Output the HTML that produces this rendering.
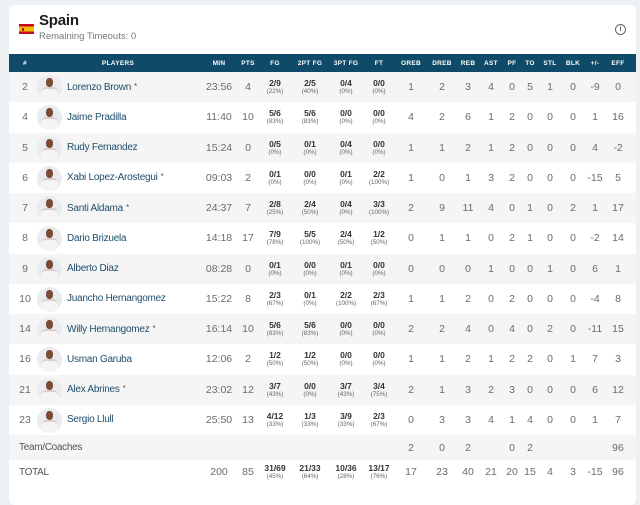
<!DOCTYPE html>
<html><head><meta charset="utf-8">
<style>
*{margin:0;padding:0;box-sizing:border-box}
html,body{width:640px;height:483px;overflow:hidden;background:#eef1f4;font-family:"Liberation Sans",sans-serif}
.card{position:absolute;left:9px;top:5px;width:627px;height:500px;background:#fff;border-radius:6px;overflow:hidden}
.title{position:absolute;left:30px;top:8px;font-size:15px;font-weight:bold;color:#1b1b1b;line-height:15px;letter-spacing:-0.2px}
.sub{position:absolute;left:30px;top:26.5px;font-size:9.5px;color:#777;line-height:10px}
.flag{position:absolute;left:10px;top:19px;width:15px;height:10px;background:linear-gradient(#c60b1e 0 25%,#f1bf00 25% 75%,#c60b1e 75%)}
.flag:after{content:"";position:absolute;left:3px;top:3.5px;width:2px;height:3px;background:#ad1519}
.info{position:absolute;left:606px;top:19px;width:11px;height:11px;border:1px solid #666;border-radius:50%;font-size:7px;line-height:9px;text-align:center;color:#666;font-weight:bold}
.r{position:absolute;left:0;width:627px;height:30.25px}
.g{background:#f5f5f5}
.hd{top:49px;height:18px;background:#0f4a68;color:#fff;font-size:6.5px;font-weight:bold;letter-spacing:.3px}
.c{position:absolute;top:0;height:100%;width:40px;display:flex;flex-direction:column;justify-content:center;align-items:center;text-align:center;font-size:10.5px;color:#6b6b6b;white-space:nowrap}
.hd .c{color:#fff;font-size:6.5px}
.c b{font-size:8.5px;font-weight:bold;color:#333;line-height:10px}
.c i{font-style:normal;font-size:6.3px;color:#666;line-height:8px}
.n{left:1px;width:30px}
.nm{position:absolute;left:58px;top:0;height:100%;display:flex;align-items:center;font-size:10px;letter-spacing:-0.25px;color:#1e4d6b;white-space:nowrap}
.nm sup{font-size:8px;vertical-align:top;position:relative;top:-1px;margin-left:3px;color:#555}
.av{position:absolute;left:27.5px;top:3px;width:25px;height:25px;border-radius:50%;background:#e9ebee;overflow:hidden}
.av:before{content:"";position:absolute;left:9px;top:3px;width:7px;height:9px;border-radius:45%;background:#7a4a35}
.av:after{content:"";position:absolute;left:4px;top:12px;width:17px;height:14px;border-radius:5px 5px 0 0;background:#f7f3f2;border-top:2px solid #d8d0ce;box-shadow:inset 0 -9px 0 -6px #d33a4a}
.lbl{position:absolute;left:10px;top:0;height:100%;display:flex;align-items:center;font-size:10px;letter-spacing:-0.3px;color:#555}
.c1{left:190px}.c2{left:219px}.c3{left:246px}.c4{left:281px}.c5{left:317px}.c6{left:350px}.c7{left:382px}.c8{left:413px}.c9{left:439px}.c10{left:462px}.c11{left:483px}.c12{left:501px}.c13{left:521px}.c14{left:544px}.c15{left:566px}.c16{left:589px}
</style></head><body>
<div class="card">
<div class="flag"></div>
<div class="title">Spain</div>
<div class="sub">Remaining Timeouts: 0</div>
<div class="info">i</div>

<div class="r hd">
<span class="c n">#</span>
<span class="c" style="left:89px;width:40px">PLAYERS</span>
<span class="c c1">MIN</span><span class="c c2">PTS</span><span class="c c3">FG</span><span class="c c4">2PT FG</span><span class="c c5">3PT FG</span><span class="c c6">FT</span><span class="c c7">OREB</span><span class="c c8">DREB</span><span class="c c9">REB</span><span class="c c10">AST</span><span class="c c11">PF</span><span class="c c12">TO</span><span class="c c13">STL</span><span class="c c14">BLK</span><span class="c c15">+/-</span><span class="c c16">EFF</span>
</div>

<div class="r g" style="top:67px"><span class="c n">2</span><div class="av"></div><div class="nm">Lorenzo Brown<sup>*</sup></div>
<span class="c c1">23:56</span><span class="c c2">4</span><span class="c c3"><b>2/9</b><i>(22%)</i></span><span class="c c4"><b>2/5</b><i>(40%)</i></span><span class="c c5"><b>0/4</b><i>(0%)</i></span><span class="c c6"><b>0/0</b><i>(0%)</i></span><span class="c c7">1</span><span class="c c8">2</span><span class="c c9">3</span><span class="c c10">4</span><span class="c c11">0</span><span class="c c12">5</span><span class="c c13">1</span><span class="c c14">0</span><span class="c c15">-9</span><span class="c c16">0</span></div>

<div class="r" style="top:97.25px"><span class="c n">4</span><div class="av"></div><div class="nm">Jaime Pradilla</div>
<span class="c c1">11:40</span><span class="c c2">10</span><span class="c c3"><b>5/6</b><i>(83%)</i></span><span class="c c4"><b>5/6</b><i>(83%)</i></span><span class="c c5"><b>0/0</b><i>(0%)</i></span><span class="c c6"><b>0/0</b><i>(0%)</i></span><span class="c c7">4</span><span class="c c8">2</span><span class="c c9">6</span><span class="c c10">1</span><span class="c c11">2</span><span class="c c12">0</span><span class="c c13">0</span><span class="c c14">0</span><span class="c c15">1</span><span class="c c16">16</span></div>

<div class="r g" style="top:127.5px"><span class="c n">5</span><div class="av"></div><div class="nm">Rudy Fernandez</div>
<span class="c c1">15:24</span><span class="c c2">0</span><span class="c c3"><b>0/5</b><i>(0%)</i></span><span class="c c4"><b>0/1</b><i>(0%)</i></span><span class="c c5"><b>0/4</b><i>(0%)</i></span><span class="c c6"><b>0/0</b><i>(0%)</i></span><span class="c c7">1</span><span class="c c8">1</span><span class="c c9">2</span><span class="c c10">1</span><span class="c c11">2</span><span class="c c12">0</span><span class="c c13">0</span><span class="c c14">0</span><span class="c c15">4</span><span class="c c16">-2</span></div>

<div class="r" style="top:157.75px"><span class="c n">6</span><div class="av"></div><div class="nm">Xabi Lopez-Arostegui<sup>*</sup></div>
<span class="c c1">09:03</span><span class="c c2">2</span><span class="c c3"><b>0/1</b><i>(0%)</i></span><span class="c c4"><b>0/0</b><i>(0%)</i></span><span class="c c5"><b>0/1</b><i>(0%)</i></span><span class="c c6"><b>2/2</b><i>(100%)</i></span><span class="c c7">1</span><span class="c c8">0</span><span class="c c9">1</span><span class="c c10">3</span><span class="c c11">2</span><span class="c c12">0</span><span class="c c13">0</span><span class="c c14">0</span><span class="c c15">-15</span><span class="c c16">5</span></div>

<div class="r g" style="top:188px"><span class="c n">7</span><div class="av"></div><div class="nm">Santi Aldama<sup>*</sup></div>
<span class="c c1">24:37</span><span class="c c2">7</span><span class="c c3"><b>2/8</b><i>(25%)</i></span><span class="c c4"><b>2/4</b><i>(50%)</i></span><span class="c c5"><b>0/4</b><i>(0%)</i></span><span class="c c6"><b>3/3</b><i>(100%)</i></span><span class="c c7">2</span><span class="c c8">9</span><span class="c c9">11</span><span class="c c10">4</span><span class="c c11">0</span><span class="c c12">1</span><span class="c c13">0</span><span class="c c14">2</span><span class="c c15">1</span><span class="c c16">17</span></div>

<div class="r" style="top:218.25px"><span class="c n">8</span><div class="av"></div><div class="nm">Dario Brizuela</div>
<span class="c c1">14:18</span><span class="c c2">17</span><span class="c c3"><b>7/9</b><i>(78%)</i></span><span class="c c4"><b>5/5</b><i>(100%)</i></span><span class="c c5"><b>2/4</b><i>(50%)</i></span><span class="c c6"><b>1/2</b><i>(50%)</i></span><span class="c c7">0</span><span class="c c8">1</span><span class="c c9">1</span><span class="c c10">0</span><span class="c c11">2</span><span class="c c12">1</span><span class="c c13">0</span><span class="c c14">0</span><span class="c c15">-2</span><span class="c c16">14</span></div>

<div class="r g" style="top:248.5px"><span class="c n">9</span><div class="av"></div><div class="nm">Alberto Diaz</div>
<span class="c c1">08:28</span><span class="c c2">0</span><span class="c c3"><b>0/1</b><i>(0%)</i></span><span class="c c4"><b>0/0</b><i>(0%)</i></span><span class="c c5"><b>0/1</b><i>(0%)</i></span><span class="c c6"><b>0/0</b><i>(0%)</i></span><span class="c c7">0</span><span class="c c8">0</span><span class="c c9">0</span><span class="c c10">1</span><span class="c c11">0</span><span class="c c12">0</span><span class="c c13">1</span><span class="c c14">0</span><span class="c c15">6</span><span class="c c16">1</span></div>

<div class="r" style="top:278.75px"><span class="c n">10</span><div class="av"></div><div class="nm">Juancho Hernangomez</div>
<span class="c c1">15:22</span><span class="c c2">8</span><span class="c c3"><b>2/3</b><i>(67%)</i></span><span class="c c4"><b>0/1</b><i>(0%)</i></span><span class="c c5"><b>2/2</b><i>(100%)</i></span><span class="c c6"><b>2/3</b><i>(67%)</i></span><span class="c c7">1</span><span class="c c8">1</span><span class="c c9">2</span><span class="c c10">0</span><span class="c c11">2</span><span class="c c12">0</span><span class="c c13">0</span><span class="c c14">0</span><span class="c c15">-4</span><span class="c c16">8</span></div>

<div class="r g" style="top:309px"><span class="c n">14</span><div class="av"></div><div class="nm">Willy Hernangomez<sup>*</sup></div>
<span class="c c1">16:14</span><span class="c c2">10</span><span class="c c3"><b>5/6</b><i>(83%)</i></span><span class="c c4"><b>5/6</b><i>(83%)</i></span><span class="c c5"><b>0/0</b><i>(0%)</i></span><span class="c c6"><b>0/0</b><i>(0%)</i></span><span class="c c7">2</span><span class="c c8">2</span><span class="c c9">4</span><span class="c c10">0</span><span class="c c11">4</span><span class="c c12">0</span><span class="c c13">2</span><span class="c c14">0</span><span class="c c15">-11</span><span class="c c16">15</span></div>

<div class="r" style="top:339.25px"><span class="c n">16</span><div class="av"></div><div class="nm">Usman Garuba</div>
<span class="c c1">12:06</span><span class="c c2">2</span><span class="c c3"><b>1/2</b><i>(50%)</i></span><span class="c c4"><b>1/2</b><i>(50%)</i></span><span class="c c5"><b>0/0</b><i>(0%)</i></span><span class="c c6"><b>0/0</b><i>(0%)</i></span><span class="c c7">1</span><span class="c c8">1</span><span class="c c9">2</span><span class="c c10">1</span><span class="c c11">2</span><span class="c c12">2</span><span class="c c13">0</span><span class="c c14">1</span><span class="c c15">7</span><span class="c c16">3</span></div>

<div class="r g" style="top:369.5px"><span class="c n">21</span><div class="av"></div><div class="nm">Alex Abrines<sup>*</sup></div>
<span class="c c1">23:02</span><span class="c c2">12</span><span class="c c3"><b>3/7</b><i>(43%)</i></span><span class="c c4"><b>0/0</b><i>(0%)</i></span><span class="c c5"><b>3/7</b><i>(43%)</i></span><span class="c c6"><b>3/4</b><i>(75%)</i></span><span class="c c7">2</span><span class="c c8">1</span><span class="c c9">3</span><span class="c c10">2</span><span class="c c11">3</span><span class="c c12">0</span><span class="c c13">0</span><span class="c c14">0</span><span class="c c15">6</span><span class="c c16">12</span></div>

<div class="r" style="top:399.75px"><span class="c n">23</span><div class="av"></div><div class="nm">Sergio Llull</div>
<span class="c c1">25:50</span><span class="c c2">13</span><span class="c c3"><b>4/12</b><i>(33%)</i></span><span class="c c4"><b>1/3</b><i>(33%)</i></span><span class="c c5"><b>3/9</b><i>(33%)</i></span><span class="c c6"><b>2/3</b><i>(67%)</i></span><span class="c c7">0</span><span class="c c8">3</span><span class="c c9">3</span><span class="c c10">4</span><span class="c c11">1</span><span class="c c12">4</span><span class="c c13">0</span><span class="c c14">0</span><span class="c c15">1</span><span class="c c16">7</span></div>

<div class="r g" style="top:430px;height:25px"><div class="lbl">Team/Coaches</div>
<span class="c c7">2</span><span class="c c8">0</span><span class="c c9">2</span><span class="c c11">0</span><span class="c c12">2</span><span class="c c16">96</span></div>

<div class="r" style="top:455px;height:24px"><div class="lbl">TOTAL</div>
<span class="c c1">200</span><span class="c c2">85</span><span class="c c3"><b>31/69</b><i>(45%)</i></span><span class="c c4"><b>21/33</b><i>(64%)</i></span><span class="c c5"><b>10/36</b><i>(28%)</i></span><span class="c c6"><b>13/17</b><i>(76%)</i></span><span class="c c7">17</span><span class="c c8">23</span><span class="c c9">40</span><span class="c c10">21</span><span class="c c11">20</span><span class="c c12">15</span><span class="c c13">4</span><span class="c c14">3</span><span class="c c15">-15</span><span class="c c16">96</span></div>
</div>
</body></html>
